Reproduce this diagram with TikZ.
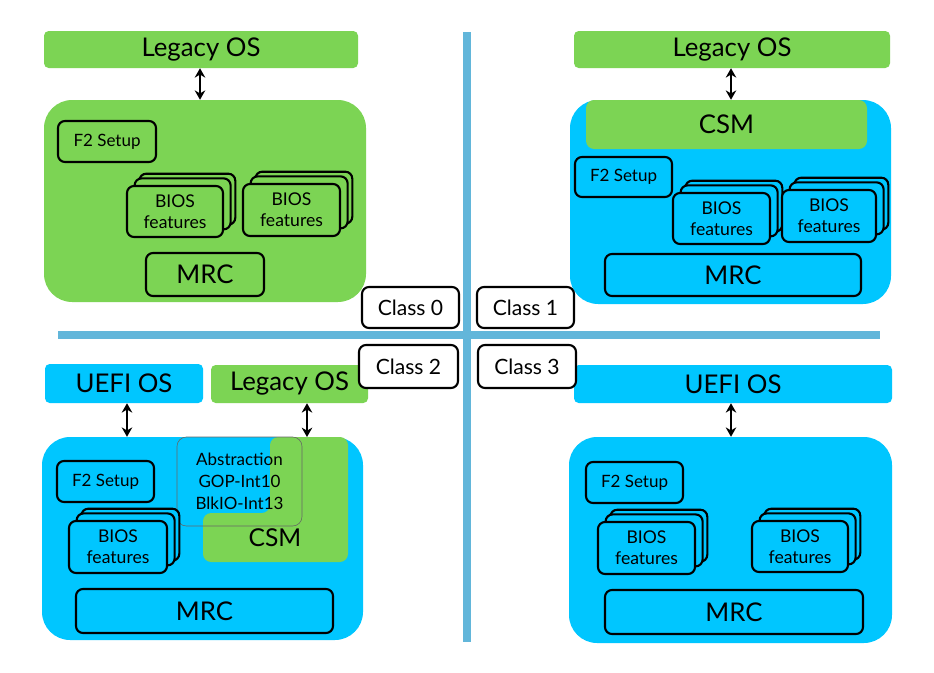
\documentclass[tikz,border=0pt]{standalone}
\usepackage{fontspec}
\setmainfont{Lato}
\usetikzlibrary{arrows.meta,shadows}
\definecolor{legacygreen}{RGB}{124,212,84}
\definecolor{uefiblue}{RGB}{0,198,255}
\definecolor{divblue}{RGB}{98,182,218}
\tikzset{
  wh/.style 2 args={minimum width=#1*0.03cm, minimum height=#2*0.03cm},
  os/.style={rounded corners=4pt, inner sep=0pt, fill=#1, font=\fontsize{22}{26}\selectfont},
  panel/.style={rounded corners=24pt, inner sep=0pt, fill=#1},
  part/.style={draw=black, line width=1.8pt, rounded corners=6pt, inner sep=0pt, fill=#1},
  setup/.style={part=#1, font=\fontsize{14.5}{17}\selectfont},
  mrc/.style={part=#1, font=\fontsize{22}{26}\selectfont},
  bios/.style={part=#1, align=center, font=\fontsize{15}{18}\selectfont,
    copy shadow={shadow xshift=10.5pt, shadow yshift=10.5pt, fill=#1, draw=black, line width=1.8pt},
    copy shadow={shadow xshift=6.5pt, shadow yshift=6.5pt, fill=#1, draw=black, line width=1.8pt}},
  classbox/.style={part=white, font=\fontsize{18}{21}\selectfont},
  link/.style={{Stealth[length=8pt,width=9pt]}-{Stealth[length=8pt,width=9pt]}, line width=1.6pt},
}
\begin{document}
\begin{tikzpicture}[x=0.03cm, y=-0.03cm]
  \useasboundingbox[fill=white] (0,0) rectangle (934,672);
  \fill[divblue] (463,32) rectangle (471,642);
  \fill[divblue] (58,331) rectangle (880,339);

  \node[os=legacygreen, wh={314}{37}] (legA) at (201,49.5) {Legacy OS};
  \node[panel=legacygreen, wh={322}{202}] (panA) at (205,201) {};
  \node[setup=legacygreen, wh={98}{41}] (setA) at (107,141.5) {F2 Setup};
  \node[bios=legacygreen, wh={96}{51}] (biosA1) at (175,211.5) {BIOS\\features};
  \node[bios=legacygreen, wh={97}{52}] (biosA2) at (291.5,210) {BIOS\\features};
  \node[mrc=legacygreen, wh={118}{43}] (mrcA) at (205,274.5) {MRC};

  \node[os=legacygreen, wh={316}{37}] (legB) at (732,49.5) {Legacy OS};
  \node[panel=uefiblue, wh={321}{204}] (panB) at (730.5,202) {};
  \node[os=legacygreen, rounded corners=7pt, wh={281}{49}] (csmB) at (726.5,124.5) {CSM};
  \node[setup=uefiblue, wh={97}{40}] (setB) at (623.5,177) {F2 Setup};
  \node[bios=uefiblue, wh={97}{51}] (biosB1) at (721.5,218.5) {BIOS\\features};
  \node[bios=uefiblue, wh={94}{52}] (biosB2) at (829,216) {BIOS\\features};
  \node[mrc=uefiblue, wh={256}{42}] (mrcB) at (733,275) {MRC};

  \node[os=uefiblue, wh={158}{39}] (uefiC) at (124,383.5) {UEFI OS};
  \node[os=legacygreen, wh={157}{38}] (legC) at (289.5,384) {Legacy OS};
  \node[panel=uefiblue, wh={321}{203}] (panC) at (202.5,538.5) {};
  \fill[legacygreen, rounded corners=7pt] (270,437) -- (348,437) -- (348,562)
    -- (203,562) -- (203,513) -- (270,513) -- cycle;
  \node[font=\fontsize{21}{25}\selectfont] (csmC) at (275,538) {CSM};
  \node[draw=black!60, line width=0.5pt, rounded corners=8pt, inner sep=0pt, align=center,
    font=\fontsize{14.5}{19}\selectfont, wh={125}{89}] (absC) at (239.5,481.5) {Abstraction\\GOP-Int10\\BlkIO-Int13};
  \node[setup=uefiblue, wh={97}{41}] (setC) at (105.5,481.5) {F2 Setup};
  \node[bios=uefiblue, wh={98}{52}] (biosC) at (118,547) {BIOS\\features};
  \node[mrc=uefiblue, wh={257}{44}] (mrcC) at (204.5,611) {MRC};
  \coordinate (csmtop) at (307,437);

  \node[os=uefiblue, wh={318}{38}] (uefiD) at (733,384) {UEFI OS};
  \node[panel=uefiblue, wh={323}{206}] (panD) at (730.5,540) {};
  \node[setup=uefiblue, wh={97}{41}] (setD) at (634.5,482.5) {F2 Setup};
  \node[bios=uefiblue, wh={97}{52}] (biosD1) at (646.5,548) {BIOS\\features};
  \node[bios=uefiblue, wh={96}{51}] (biosD2) at (800,546.5) {BIOS\\features};
  \node[mrc=uefiblue, wh={258}{44}] (mrcD) at (734,612) {MRC};

  \node[classbox, wh={97}{41}] (cls0) at (410.5,307.5) {Class 0};
  \node[classbox, wh={97}{41}] (cls1) at (525.5,307.5) {Class 1};
  \node[classbox, wh={99}{43}] (cls2) at (408.5,366.5) {Class 2};
  \node[classbox, wh={98}{43}] (cls3) at (527,366.5) {Class 3};

  \begin{scope}[link]
    \draw (legA.south -| 200,0) -- (panA.north -| 200,0);
    \draw (legB.south -| 731,0) -- (panB.north -| 731,0);
    \draw (uefiC.south -| 127,0) -- (panC.north -| 127,0);
    \draw (legC.south -| csmtop) -- (csmtop);
    \draw (uefiD.south -| 731,0) -- (panD.north -| 731,0);
  \end{scope}
\end{tikzpicture}
\end{document}
